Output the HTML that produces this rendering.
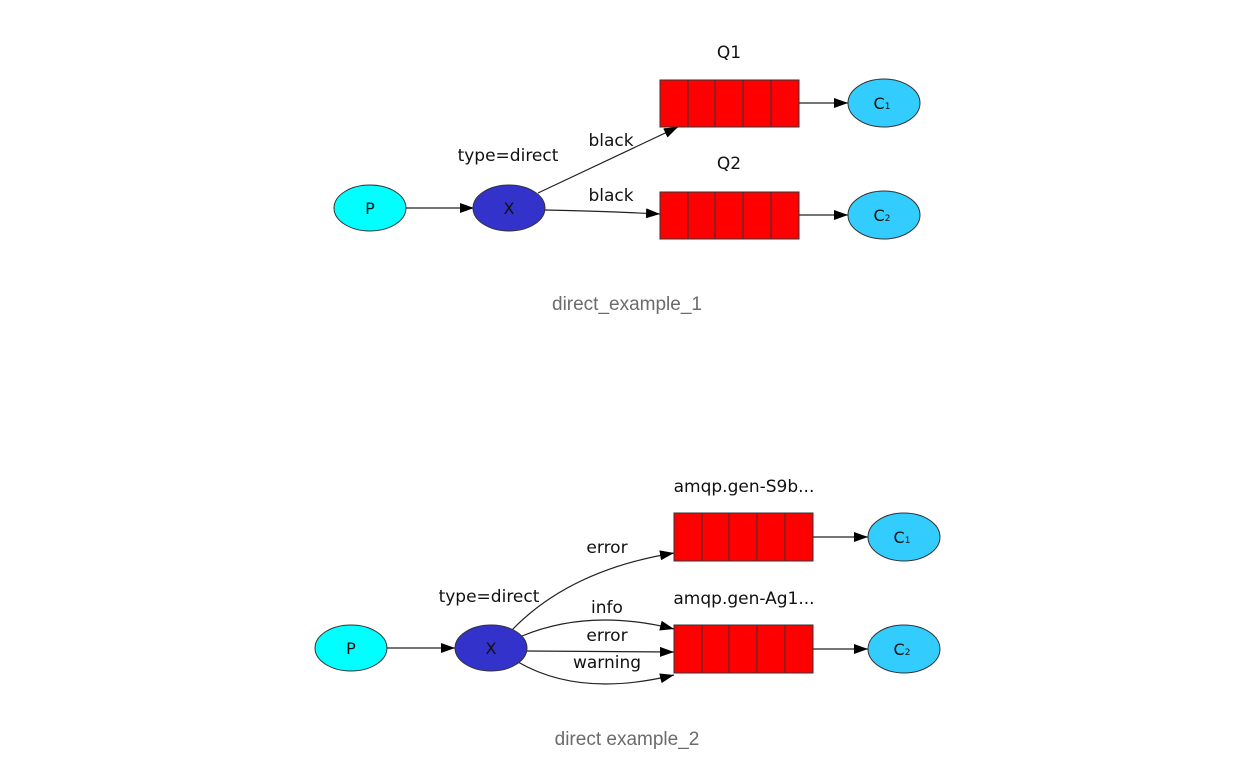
<!DOCTYPE html>
<html><head><meta charset="utf-8"><style>
html,body{margin:0;padding:0;background:#fff;width:1246px;height:775px;overflow:hidden}
svg{display:block}
.t{font-family:"DejaVu Sans","Liberation Sans",sans-serif;font-size:17px;fill:#111;text-anchor:middle}
.n{font-family:"DejaVu Sans","Liberation Sans",sans-serif;font-size:16px;fill:#111;text-anchor:middle}
.cap{font-family:"Liberation Sans",sans-serif;font-size:19px;fill:#6b6b6b;text-anchor:middle}
.e{fill:none;stroke:#222;stroke-width:1.2}
.q{fill:#f00;stroke:#333;stroke-width:1}
</style></head><body>
<svg width="1246" height="775" viewBox="0 0 1246 775">
<defs>
<marker id="a" markerUnits="userSpaceOnUse" markerWidth="16" markerHeight="12" refX="14" refY="5" orient="auto">
<path d="M0,0 L14,5 L0,10 Z" fill="#000"/>
</marker>
</defs>

<text class="t" x="729" y="58">Q1</text>
<text class="t" x="729" y="169">Q2</text>
<text class="t" x="508" y="161">type=direct</text>
<text class="t" x="611" y="146">black</text>
<text class="t" x="611" y="201">black</text>

<line class="e" x1="406" y1="208" x2="474" y2="208" marker-end="url(#a)"/>
<line class="e" x1="538" y1="193" x2="678" y2="127" marker-end="url(#a)"/>
<path class="e" d="M545,210 Q600,211 660,214" marker-end="url(#a)"/>
<line class="e" x1="799" y1="103" x2="848" y2="103" marker-end="url(#a)"/>
<line class="e" x1="799" y1="215" x2="848" y2="215" marker-end="url(#a)"/>

<ellipse cx="370" cy="208" rx="36" ry="23" fill="#00ffff" stroke="#333"/>
<text class="n" x="370" y="214">P</text>
<ellipse cx="509" cy="208" rx="36" ry="23" fill="#3333cc" stroke="#333"/>
<text class="n" x="509" y="214">X</text>

<g>
<rect class="q" x="660" y="80" width="139" height="47"/>
<line class="q" x1="688" y1="80" x2="688" y2="127"/><line class="q" x1="715" y1="80" x2="715" y2="127"/><line class="q" x1="743" y1="80" x2="743" y2="127"/><line class="q" x1="771" y1="80" x2="771" y2="127"/>
<rect class="q" x="660" y="192" width="139" height="47"/>
<line class="q" x1="688" y1="192" x2="688" y2="239"/><line class="q" x1="715" y1="192" x2="715" y2="239"/><line class="q" x1="743" y1="192" x2="743" y2="239"/><line class="q" x1="771" y1="192" x2="771" y2="239"/>
</g>
<ellipse cx="884" cy="103" rx="36" ry="24" fill="#33ccff" stroke="#333"/>
<text class="n" x="882" y="109">C<tspan font-size="9">1</tspan></text>
<ellipse cx="884" cy="215" rx="36" ry="24" fill="#33ccff" stroke="#333"/>
<text class="n" x="882" y="221">C<tspan font-size="9">2</tspan></text>

<text class="cap" x="627" y="310">direct_example_1</text>

<text class="t" x="744" y="492">amqp.gen-S9b...</text>
<text class="t" x="744" y="604">amqp.gen-Ag1...</text>
<text class="t" x="489" y="602">type=direct</text>
<text class="t" x="607" y="553">error</text>
<text class="t" x="607" y="613">info</text>
<text class="t" x="607" y="641">error</text>
<text class="t" x="607" y="668">warning</text>

<line class="e" x1="387" y1="648" x2="455" y2="648" marker-end="url(#a)"/>
<path class="e" d="M512,630 Q570,570 674,553" marker-end="url(#a)"/>
<path class="e" d="M522,636 Q590,608 674,629" marker-end="url(#a)"/>
<path class="e" d="M527,651 L674,652" marker-end="url(#a)"/>
<path class="e" d="M518,662 Q580,698 674,675" marker-end="url(#a)"/>
<line class="e" x1="813" y1="537" x2="868" y2="537" marker-end="url(#a)"/>
<line class="e" x1="813" y1="649" x2="868" y2="649" marker-end="url(#a)"/>

<ellipse cx="351" cy="648" rx="36" ry="23" fill="#00ffff" stroke="#333"/>
<text class="n" x="351" y="654">P</text>
<ellipse cx="491" cy="648" rx="36" ry="23" fill="#3333cc" stroke="#333"/>
<text class="n" x="491" y="654">X</text>

<g>
<rect class="q" x="674" y="513" width="139" height="48"/>
<line class="q" x1="702" y1="513" x2="702" y2="561"/><line class="q" x1="729" y1="513" x2="729" y2="561"/><line class="q" x1="757" y1="513" x2="757" y2="561"/><line class="q" x1="785" y1="513" x2="785" y2="561"/>
<rect class="q" x="674" y="625" width="139" height="48"/>
<line class="q" x1="702" y1="625" x2="702" y2="673"/><line class="q" x1="729" y1="625" x2="729" y2="673"/><line class="q" x1="757" y1="625" x2="757" y2="673"/><line class="q" x1="785" y1="625" x2="785" y2="673"/>
</g>
<ellipse cx="904" cy="537" rx="36" ry="24" fill="#33ccff" stroke="#333"/>
<text class="n" x="902" y="543">C<tspan font-size="9">1</tspan></text>
<ellipse cx="904" cy="649" rx="36" ry="24" fill="#33ccff" stroke="#333"/>
<text class="n" x="902" y="655">C<tspan font-size="9">2</tspan></text>

<text class="cap" x="627" y="745">direct example_2</text>
</svg>
</body></html>
